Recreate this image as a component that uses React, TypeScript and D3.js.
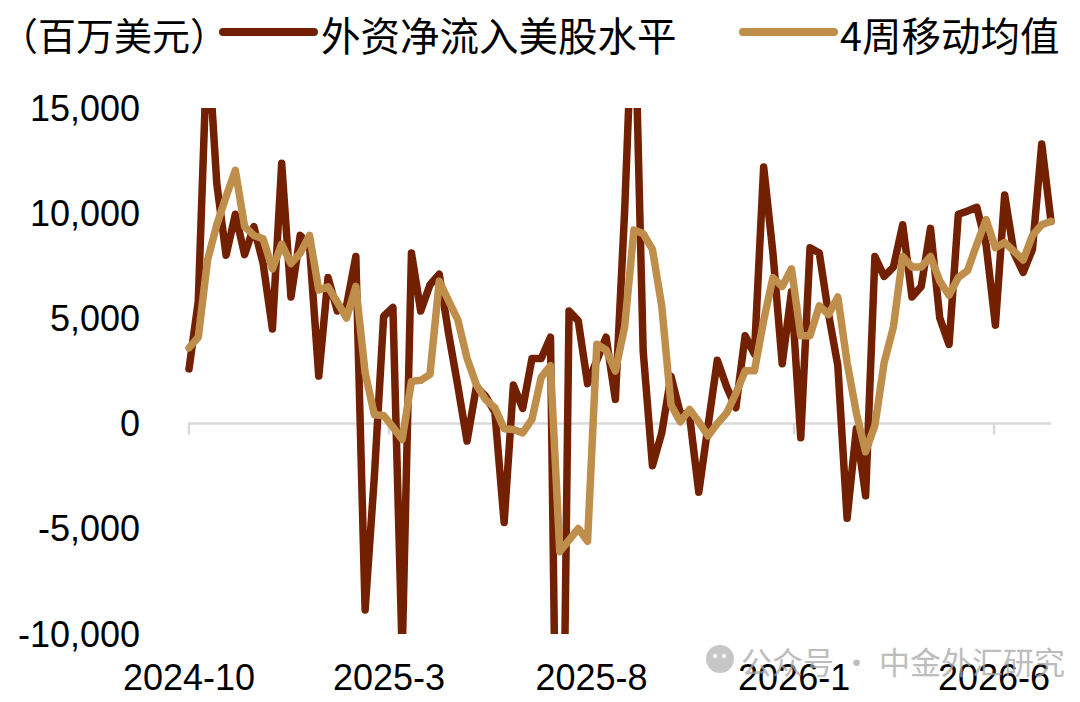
import React from "react";
import * as d3 from "d3";

// 外资净流入美股水平（百万美元），周度
const inflow: number[] = [
  2600, 5800, 18500, 11400, 8000, 9950, 8030, 9360, 7600, 4500,
  12370, 6020, 8945, 8450, 2257, 6940, 5350, 5600, 7940, -8860,
  -2500, 5100, 5520, -11000, 8110, 5350, 6600, 7100, 4300, 1800,
  -830, 1750, 1300, 550, -4700, 1830, 720, 3090, 3090, 4110,
  -30000, 5350, 4880, 1900, 3000, 4110, 1150, 10100, 21500, 3450,
  -2000, -450, 2257, 500, 400, -3260, -100, 3010, 1756, 752,
  4180, 3300, 12200, 8100, 2842, 6270, -670, 8360, 8110, 5200,
  2760, -4500, -250, -3430, 7940, 7000, 7440, 9450, 6020, 6520,
  9280, 5016, 3760, 9950, 10100, 10280, 8500, 4680, 10870, 8110,
  7190, 8280, 13290, 9610,
];

// 4周移动均值
const ma4: number[] = [
  3600, 4100, 7775, 9450, 10785, 12040, 9363, 8945, 8780, 7357,
  8527, 7608, 8109, 8945, 6350, 6500, 5770, 5016, 6520, 2424,
  418, 385, -167, -752, 2006, 2057, 2340, 6770, 5850, 4930,
  3100, 1850, 1150, 750, -250, -280, -440, 200, 2200, 2754,
  -6086, -5540, -4990, -5590, 3770, 3500, 2500, 4598, 9196, 9029,
  8277, 5600, 900, 84, 669, 84, -585, 0, 502, 1421,
  2508, 2508, 4900, 6939, 6520, 7357, 4180, 4180, 5600, 5183,
  6019, 2900, 502, -1338, -84, 2900, 4600, 7942, 7440, 7440,
  7942, 6772, 6103, 6939, 7273, 8527, 9698, 8360, 8611, 8193,
  7775, 8945, 9447, 9614,
];

const firstWeek = "2024-10-01";
const xTickDates: string[] = ["2024-10-01", "2025-03-01", "2025-08-01", "2026-01-01", "2026-06-01"];
const xTickLabels: string[] = ["2024-10", "2025-3", "2025-8", "2026-1", "2026-6"];
const yTicks: number[] = [-10000, -5000, 0, 5000, 10000, 15000];
const seriesNames: string[] = ["外资净流入美股水平", "4周移动均值"];
const unitLabel = "（百万美元）";
const watermark = "公众号 · 中金外汇研究";

const W = 1080;
const H = 702;
const BROWN = "#722000";
const GOLD = "#C08E4B";

export default function App() {
  const start = new Date(firstWeek + "T00:00:00Z");
  const dates = d3.range(inflow.length).map((i) => d3.utcDay.offset(start, 7 * i));

  const x = d3
    .scaleUtc()
    .domain([dates[0], dates[dates.length - 1]])
    .range([189, 1051]);
  const y = d3.scaleLinear().domain([-10000, 15000]).range([634, 108]);

  const line = d3
    .line<number>()
    .x((_, i) => x(dates[i]))
    .y((d) => y(d));

  const fmt0 = d3.format(",");
  const fmt = (v: number) => fmt0(v).replace("\u2212", "-");
  const y0 = y(0);
  const cjk = '"Noto Sans CJK SC", "Noto Sans", sans-serif';
  const latin = '"Liberation Sans", Arial, sans-serif';

  return (
    <svg
      width={W}
      height={H}
      viewBox={`0 0 ${W} ${H}`}
      style={{ position: "absolute", left: 0, top: 0, background: "#fff" }}
    >
      <defs>
        <clipPath id="plotClip">
          <rect x={0} y={y(15000)} width={W} height={y(-10000) - y(15000)} />
        </clipPath>
      </defs>

      {/* zero axis line and ticks */}
      <line x1={x.range()[0] - 1} x2={x.range()[1]} y1={y0} y2={y0} stroke="#d9d9d9" strokeWidth={2.5} />
      {xTickDates.map((d) => {
        const xx = x(new Date(d + "T00:00:00Z"));
        return <line key={d} x1={xx} x2={xx} y1={y0} y2={y0 + 11} stroke="#d9d9d9" strokeWidth={2.5} />;
      })}

      {/* y tick labels */}
      {yTicks.map((t) => (
        <text
          key={t}
          x={140}
          y={y(t)}
          textAnchor="end"
          dominantBaseline="central"
          fontFamily={latin}
          fontSize={36}
          fill="#000"
        >
          {fmt(t)}
        </text>
      ))}

      {/* x tick labels */}
      {xTickDates.map((d, i) => (
        <text
          key={d}
          x={x(new Date(d + "T00:00:00Z"))}
          y={677}
          textAnchor="middle"
          dominantBaseline="central"
          fontFamily={latin}
          fontSize={36}
          fill="#000"
        >
          {xTickLabels[i]}
        </text>
      ))}

      {/* series */}
      <g clipPath="url(#plotClip)">
        <path
          d={line(inflow) || ""}
          fill="none"
          stroke={BROWN}
          strokeWidth={7.5}
          strokeLinejoin="round"
          strokeLinecap="round"
        />
        <path
          d={line(ma4) || ""}
          fill="none"
          stroke={GOLD}
          strokeWidth={7.5}
          strokeLinejoin="round"
          strokeLinecap="round"
        />
      </g>

      {/* legend */}
      <text x={0} y={33} dominantBaseline="central" fontFamily={cjk} fontSize={38} fill="#000">
        {unitLabel}
      </text>
      <line x1={223} x2={314} y1={32} y2={32} stroke={BROWN} strokeWidth={8} strokeLinecap="round" />
      <text x={321} y={33} dominantBaseline="central" fontFamily={cjk} fontSize={39.5} fill="#000">
        {seriesNames[0]}
      </text>
      <line x1={743} x2={834} y1={32} y2={32} stroke={GOLD} strokeWidth={8} strokeLinecap="round" />
      <text x={840} y={33} dominantBaseline="central" fontFamily={cjk} fontSize={39.5} fill="#000">
        {seriesNames[1]}
      </text>

      {/* watermark */}
      <g opacity={0.75}>
        <circle cx={720} cy={659} r={14} fill="#b5b5b5" />
        <circle cx={715} cy={656} r={2} fill="#fff" />
        <circle cx={724} cy={656} r={2} fill="#fff" />
        <text x={741} y={660} dominantBaseline="central" fontFamily={cjk} fontSize={31} fill="#a8a8a8">
          {watermark}
        </text>
      </g>
    </svg>
  );
}
